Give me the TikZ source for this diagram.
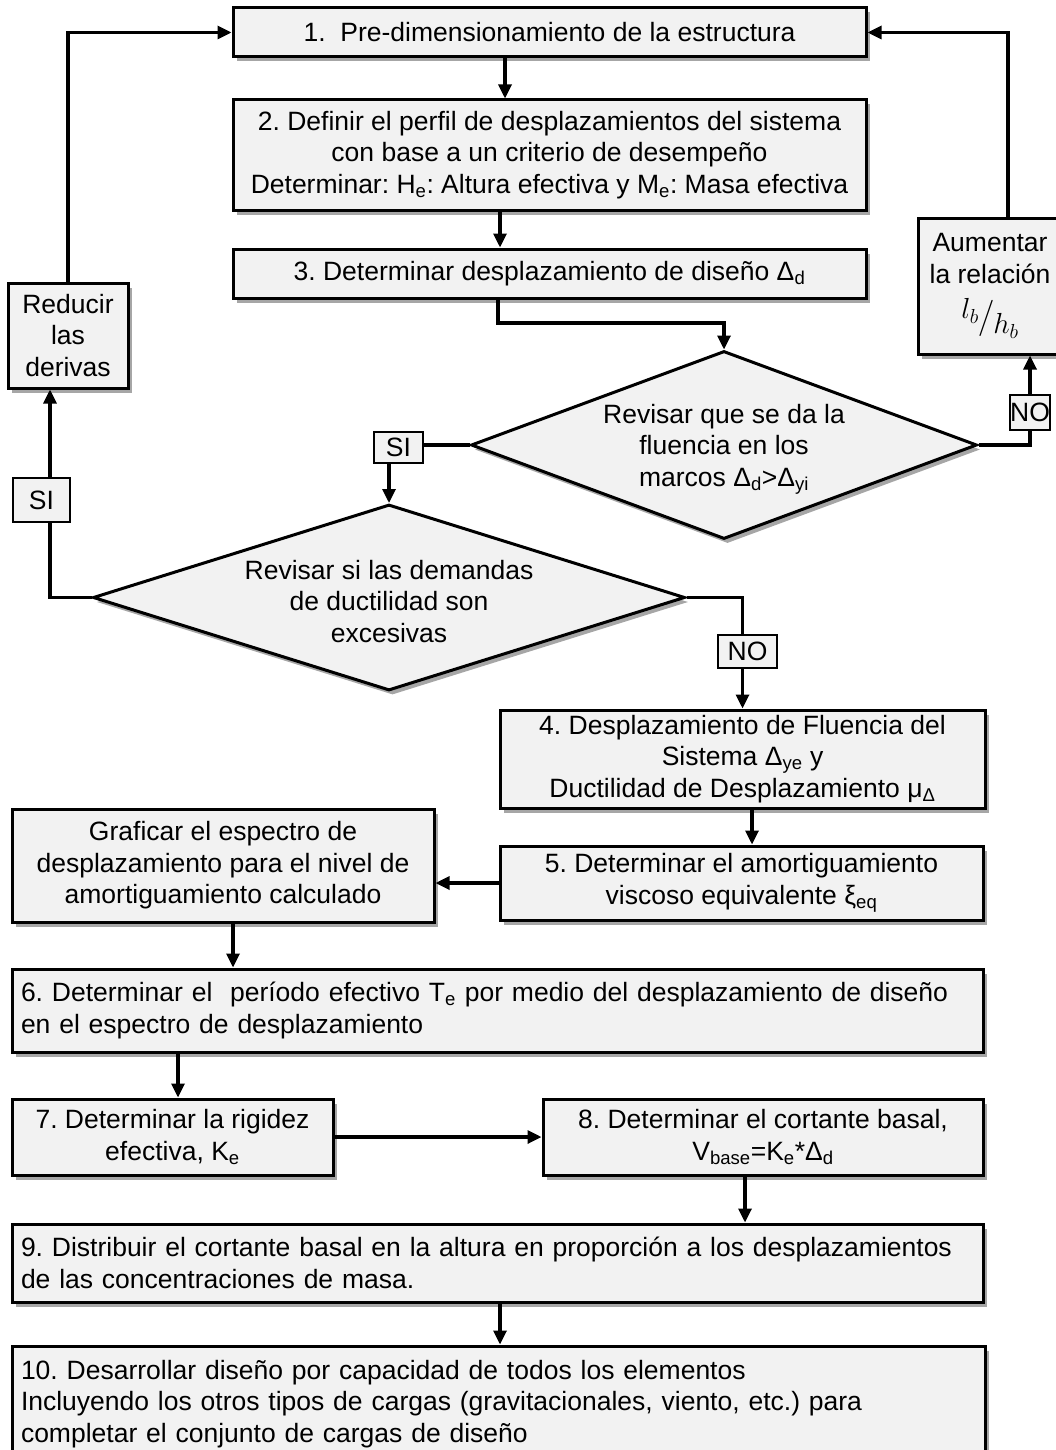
\documentclass[tikz,border=0pt]{standalone}
\usepackage{fix-cm}
\usepackage{fontspec}
\usepackage{graphicx}
\setmainfont{Liberation Sans}
\frenchspacing
\usetikzlibrary{arrows.meta,shapes.geometric,shadows,calc}
\definecolor{boxfill}{HTML}{F2F2F2}
\begin{document}
\begin{tikzpicture}[x=1pt,y=-1pt,
  font=\fontsize{26.5}{31.5}\selectfont,
  shad/.style={drop shadow={shadow xshift=3.5pt, shadow yshift=-4.5pt, opacity=0.35, fill=black}},
  box/.style={draw=black, line width=3pt, fill=boxfill, inner sep=0pt, align=center, shad},
  lbox/.style={box, inner xsep=9pt, align=left},
  dia/.style={diamond, draw=black, line width=3pt, fill=boxfill, inner sep=0pt, shad},
  tag/.style={draw=black, line width=2.4pt, fill=boxfill, inner sep=0pt},
  arr/.style={line width=3.2pt, -{Triangle[length=14pt,width=13pt]}}
]
\useasboundingbox (0,0) rectangle (1055,1450);

% boxes
\node[box, minimum width=633pt, minimum height=49pt] (b1) at (549.5,32.5) {1.\ \ Pre-dimensionamiento de la estructura};
\node[box, minimum width=633pt, minimum height=110pt] (b2) at (549.5,155) {2. Definir el perfil de desplazamientos del sistema\\con base a un criterio de desempeño\\Determinar: H\textsubscript{e}: Altura efectiva y M\textsubscript{e}: Masa efectiva};
\node[box, minimum width=633pt, minimum height=49pt] (b3) at (549.5,273.5) {3. Determinar desplazamiento de diseño Δ\textsubscript{d}};
\node[box, minimum width=120pt, minimum height=105pt] (red) at (68,335.5) {Reducir\\las\\derivas};
\node[box, minimum width=144pt, minimum height=136pt] (aum) at (990,286) {Aumentar\\la relación\\[9pt]{\fontsize{29}{31}\selectfont\raisebox{5pt}{$l_b$}\hspace{-1pt}\raisebox{-4pt}{\scalebox{1.25}{$/$}}\hspace{-1pt}\raisebox{-10pt}{$h_b$}}};

\node[dia, minimum width=506pt, minimum height=188pt,
  label={[align=center, yshift=-4pt]center:Revisar que se da la\\fluencia en los\\marcos Δ\textsubscript{d}>Δ\textsubscript{yi}}] (d1) at (724,445) {};
\node[dia, minimum width=592pt, minimum height=186pt,
  label={[align=center, yshift=-4pt]center:Revisar si las demandas\\de ductilidad son\\excesivas}] (d2) at (389,597.5) {};

\node[box, minimum width=485pt, minimum height=98pt] (b4) at (742.5,759) {4. Desplazamiento de Fluencia del\\Sistema Δ\textsubscript{ye} y\\Ductilidad de Desplazamiento μ\textsubscript{Δ}};
\node[box, minimum width=483pt, minimum height=74pt] (b5) at (741.5,883) {5. Determinar el amortiguamiento\\viscoso equivalente ξ\textsubscript{eq}};
\node[box, minimum width=422pt, minimum height=113pt] (graf) at (223,865.5) {Graficar el espectro de\\desplazamiento para el nivel de\\amortiguamiento calculado};
\node[lbox, text width=953pt, minimum height=83pt] (b6) at (497.5,1010.5) {6. Determinar el\ \ período efectivo T\textsubscript{e} por medio del desplazamiento de diseño\\en el espectro de desplazamiento};
\node[box, minimum width=321pt, minimum height=76pt] (b7) at (172.5,1137) {7. Determinar la rigidez\\efectiva, K\textsubscript{e}};
\node[box, minimum width=440pt, minimum height=76pt] (b8) at (763,1137) {8. Determinar el cortante basal,\\V\textsubscript{base}=K\textsubscript{e}*Δ\textsubscript{d}};
\node[lbox, text width=953pt, minimum height=78pt] (b9) at (497.5,1263) {9. Distribuir el cortante basal en la altura en proporción a los desplazamientos\\de las concentraciones de masa.};
\node[lbox, text width=955pt, minimum height=116pt] (b10) at (498.5,1404) {10. Desarrollar diseño por capacidad de todos los elementos\\Incluyendo los otros tipos de cargas (gravitacionales, viento, etc.) para\\completar el conjunto de cargas de diseño};

% helper x positions
\coordinate (ca) at (505,0);
\coordinate (cb) at (500,0);
\coordinate (cc) at (498,323);
\coordinate (cl) at (50,0);
\coordinate (cr) at (1030,0);
\coordinate (cr2) at (1008,0);
\coordinate (cd) at (752,0);
\coordinate (ce) at (233,0);
\coordinate (cf) at (178,0);
\coordinate (cg) at (745,0);
\coordinate (ch) at (500,0);

% connectors
\draw[arr] (b1.south -| ca) -- (b2.north -| ca);
\draw[arr] (b2.south -| cb) -- (b3.north -| cb);
\draw[arr] (b3.south -| cc) -- (cc) -| (d1.north);
\draw[arr] (d1.west) -| (d2.north);
\draw[arr] (d2.west) -| (red.south -| cl);
\draw[arr] (red.north) |- (b1.west);
\draw[arr] (d1.east) -| (aum.south -| cr);
\draw[arr] (aum.north -| cr2) |- (b1.east);
\draw[arr] (d2.east) -| (b4.north);
\draw[arr] (b4.south -| cd) -- (b5.north -| cd);
\draw[arr] (b5.west) -- (b5.west -| graf.east);
\draw[arr] (graf.south -| ce) -- (b6.north -| ce);
\draw[arr] (b6.south -| cf) -- (b7.north -| cf);
\draw[arr] (b7.east) -- (b8.west);
\draw[arr] (b8.south -| cg) -- (b9.north -| cg);
\draw[arr] (b9.south -| ch) -- (b10.north -| ch);

% branch tags
\node[tag, minimum width=49pt, minimum height=31pt] (si1) at (398.5,447.5) {SI};
\node[tag, minimum width=57pt, minimum height=44pt] (si2) at (41.5,500) {SI};
\node[tag, minimum width=40pt, minimum height=35pt] (no1) at (1030,412.5) {NO};
\node[tag, minimum width=59pt, minimum height=33pt] (no2) at (747.5,651.5) {NO};
\end{tikzpicture}
\end{document}
